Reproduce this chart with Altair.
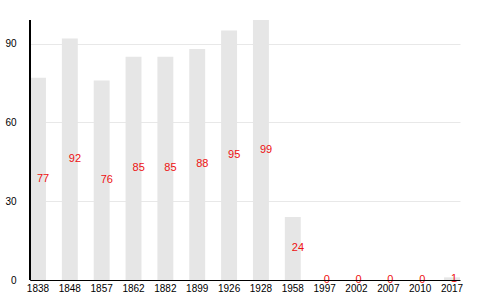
import altair as alt
import pandas as pd

years = ["1838", "1848", "1857", "1862", "1882", "1899", "1926", "1928",
         "1958", "1997", "2002", "2007", "2010", "2017"]
values = [77, 92, 76, 85, 85, 88, 95, 99, 24, 0, 0, 0, 0, 1]

df = pd.DataFrame({"year": years, "value": values})
df["half"] = df["value"] / 2

x = alt.X("year:N", sort=years, title=None,
          scale=alt.Scale(paddingInner=0.5, paddingOuter=0),
          axis=alt.Axis(labelAngle=0, ticks=False, labelPadding=3, labelFontSize=10,
                        labelColor="#000", domainColor="#000", labelFont="Liberation Sans",
                        zindex=1))

bars = alt.Chart(df).mark_bar(color="#e6e6e6").encode(
    x=x,
    y=alt.Y("value:Q", title=None,
            scale=alt.Scale(domain=[0, 99], nice=False),
            axis=alt.Axis(values=[0, 30, 60, 90], ticks=False, labelPadding=14,
                          labelFontSize=10, labelColor="#000", domainColor="#000",
                          gridColor="#e8e8e8", labelFont="Liberation Sans", zindex=0)),
)

yaxis_line = alt.Chart(df).mark_rule(color="#000").encode(
    x=alt.value(0), y=alt.value(0), y2=alt.value(260))

labels = alt.Chart(df).mark_text(color="#ee1111", align="left", dx=-1, fontSize=11,
                                 font="Liberation Sans").encode(
    x=alt.X("year:N", sort=years),
    y=alt.Y("half:Q"),
    text=alt.Text("value:Q"),
)

chart = (bars + labels + yaxis_line).properties(
    width=430, height=260,
    autosize=alt.AutoSizeParams(type="none"),
    padding={"left": 30, "top": 20, "right": 40, "bottom": 20},
).configure_view(stroke=None).configure_axisX(grid=False)

chart.save("out.html", embed_options={"renderer": "svg", "actions": False})
